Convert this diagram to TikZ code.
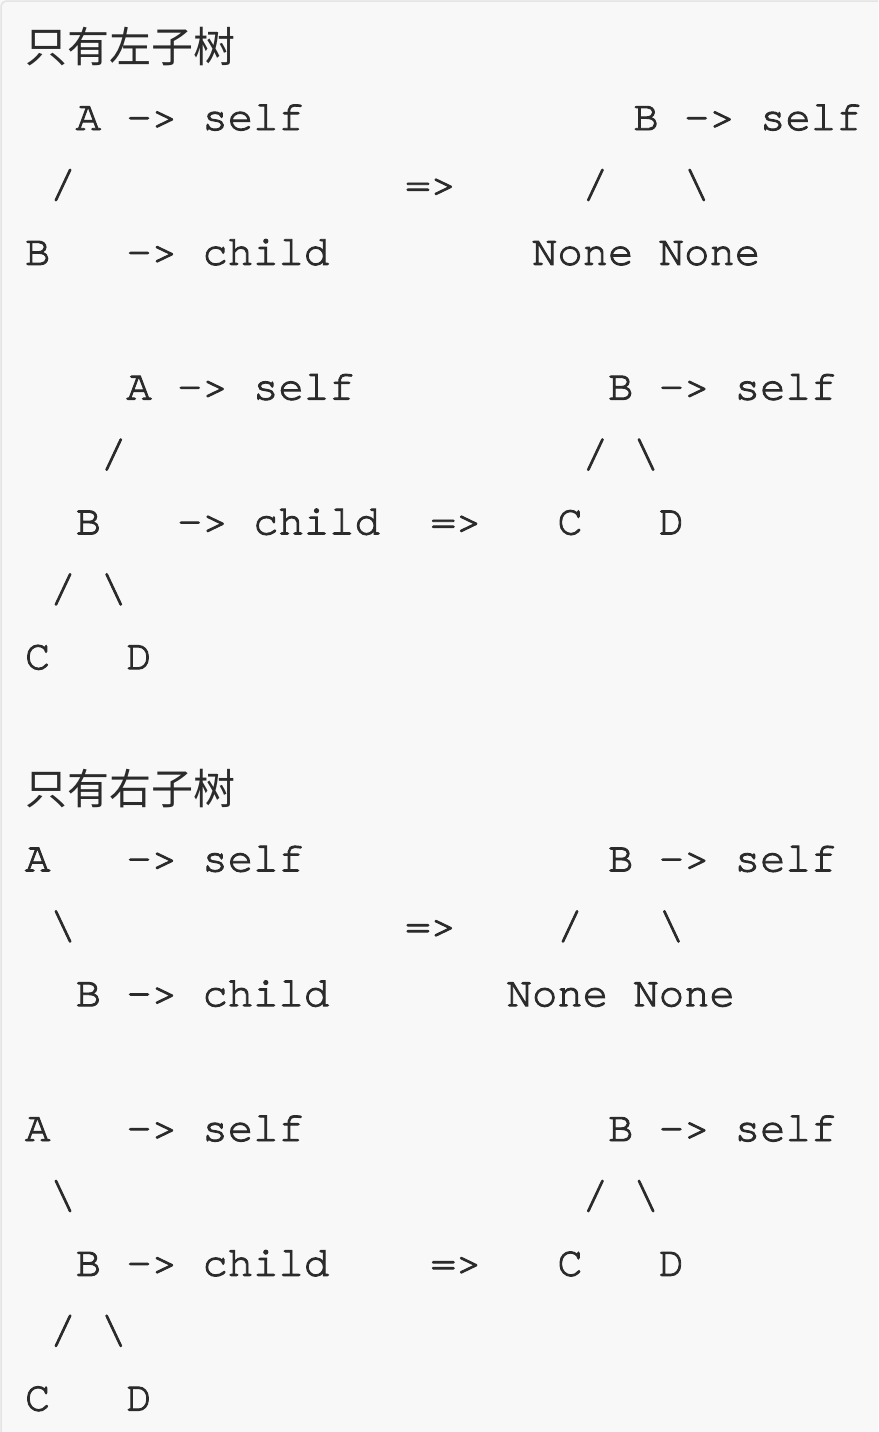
\documentclass[tikz,border=0pt]{standalone}
\usepackage{fontspec}
\newfontfamily\monofnt[FakeBold=2.2]{texgyrecursor-regular.otf}
\newfontfamily\cjkfnt{Noto Sans CJK SC}
\definecolor{ink}{HTML}{2B2B2B}
\definecolor{paper}{HTML}{F8F8F8}
\definecolor{rim}{HTML}{E4E4E4}
\tikzset{
  tok/.style={anchor=base west, inner sep=0pt, outer sep=0pt, text=ink, font=\monofnt\fontsize{42.25}{50}\selectfont},
  cjktok/.style={anchor=base west, inner sep=0pt, outer sep=0pt, text=ink, font=\cjkfnt\fontsize{42}{50}\selectfont}
}
\newcommand\tk[3]{\node[tok] (t#2-#1) at ({25+#1*25.35},{-(62.6+#2*67.4)}) {#3};}
\newcommand\bs{\textbackslash}
\begin{document}
\begin{tikzpicture}[x=1pt,y=1pt]
\useasboundingbox (0,0) rectangle (878,-1432);
\clip (0,0) rectangle (878,-1432);
\fill[paper] (0,0) rectangle (878,-1432);
\draw[rim, line width=1.5pt, rounded corners=6pt] (1,-1) rectangle (900,-1460);
% row 0
\node[cjktok] (h1) at (25,-62.6) {只有左子树};
% row 1
\tk{2}{1}{A}\tk{4}{1}{->}\tk{7}{1}{self}\tk{24}{1}{B}\tk{26}{1}{->}\tk{29}{1}{self}
% row 2
\tk{1}{2}{/}\tk{15}{2}{=>}\tk{22}{2}{/}\tk{26}{2}{\bs}
% row 3
\tk{0}{3}{B}\tk{4}{3}{->}\tk{7}{3}{child}\tk{20}{3}{None}\tk{25}{3}{None}
% row 5
\tk{4}{5}{A}\tk{6}{5}{->}\tk{9}{5}{self}\tk{23}{5}{B}\tk{25}{5}{->}\tk{28}{5}{self}
% row 6
\tk{3}{6}{/}\tk{22}{6}{/}\tk{24}{6}{\bs}
% row 7
\tk{2}{7}{B}\tk{6}{7}{->}\tk{9}{7}{child}\tk{16}{7}{=>}\tk{21}{7}{C}\tk{25}{7}{D}
% row 8
\tk{1}{8}{/}\tk{3}{8}{\bs}
% row 9
\tk{0}{9}{C}\tk{4}{9}{D}
% row 11
\node[cjktok] (h2) at (25,{-(62.6+11*67.4)}) {只有右子树};
% row 12
\tk{0}{12}{A}\tk{4}{12}{->}\tk{7}{12}{self}\tk{23}{12}{B}\tk{25}{12}{->}\tk{28}{12}{self}
% row 13
\tk{1}{13}{\bs}\tk{15}{13}{=>}\tk{21}{13}{/}\tk{25}{13}{\bs}
% row 14
\tk{2}{14}{B}\tk{4}{14}{->}\tk{7}{14}{child}\tk{19}{14}{None}\tk{24}{14}{None}
% row 16
\tk{0}{16}{A}\tk{4}{16}{->}\tk{7}{16}{self}\tk{23}{16}{B}\tk{25}{16}{->}\tk{28}{16}{self}
% row 17
\tk{1}{17}{\bs}\tk{22}{17}{/}\tk{24}{17}{\bs}
% row 18
\tk{2}{18}{B}\tk{4}{18}{->}\tk{7}{18}{child}\tk{16}{18}{=>}\tk{21}{18}{C}\tk{25}{18}{D}
% row 19
\tk{1}{19}{/}\tk{3}{19}{\bs}
% row 20
\tk{0}{20}{C}\tk{4}{20}{D}
\end{tikzpicture}
\end{document}
